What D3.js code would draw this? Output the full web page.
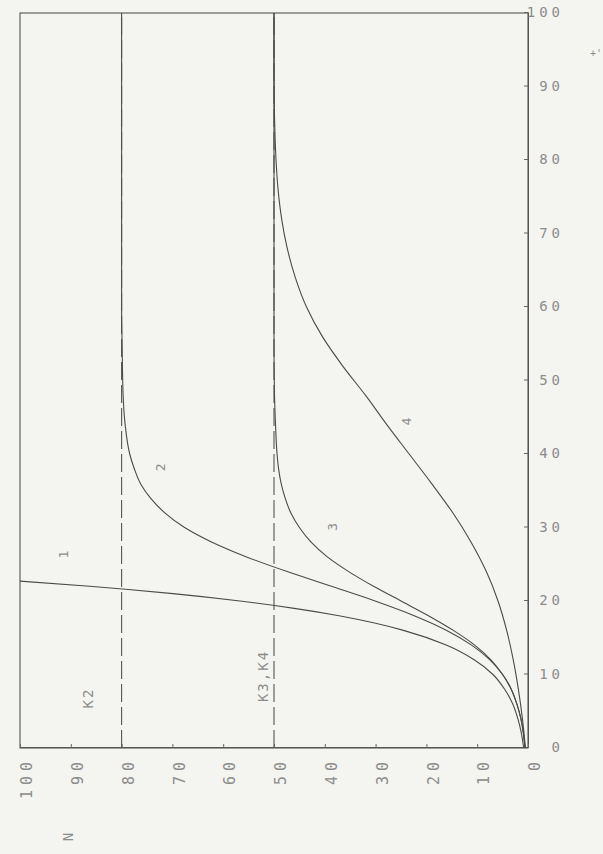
<!DOCTYPE html>
<html>
<head>
<meta charset="utf-8">
<script src="https://cdn.jsdelivr.net/npm/d3@7"></script>
<style>
  html, body { margin: 0; padding: 0; background: #f4f4f1; }
  svg { display: block; }
  text { font-family: "DejaVu Sans Mono", "Liberation Mono", monospace; fill: #8c8c8c; font-variant-numeric: slashed-zero; }
</style>
</head>
<body>
<script>
// values (t across, N up; the plot is printed rotated)
const tTicks = [0, 10, 20, 30, 40, 50, 60, 70, 80, 90, 100];
const nTicks = [0, 10, 20, 30, 40, 50, 60, 70, 80, 90, 100];

const curve1T = [0, 2, 4, 6, 8, 10, 12, 14, 16, 17, 18, 19, 20, 21, 22, 22.7];
const curve1N = [0.85, 1.3, 2.0, 3.0, 4.6, 6.9, 10.6, 16.1, 24.5, 30.2, 37.2, 46.0, 56.7, 69.9, 86.3, 100];

const gridT = [0, 2, 4, 6, 8, 10, 12, 14, 16, 18, 20, 22, 24, 26, 28, 30, 32, 34, 36, 38, 40, 44, 48, 55, 60, 70, 80, 90, 100];
const curve2N = [0.6, 0.9, 1.4, 2.2, 3.3, 5.0, 7.5, 11.1, 16.0, 22.4, 30.1, 38.7, 47.4, 55.4, 62.2, 67.6, 71.5, 74.3, 76.3, 77.5, 78.4, 79.3, 79.7, 79.9, 80, 80, 80, 80, 80];
const curve3N = [0.6, 0.9, 1.4, 2.2, 3.3, 5.0, 7.3, 10.5, 14.7, 19.6, 25.0, 30.4, 35.3, 39.5, 42.7, 45.0, 46.7, 47.8, 48.6, 49.1, 49.4, 49.7, 49.9, 50, 50, 50, 50, 50, 50];

const curve4T = [0, 4, 8, 12, 16, 20, 24, 28, 32, 36, 40, 44, 48, 52, 56, 60, 64, 68, 72, 76, 80, 86, 92, 100];
const curve4N = [0.5, 1.1, 1.9, 2.9, 4.2, 5.9, 8.2, 11.2, 14.8, 19.0, 23.4, 27.8, 32.0, 36.5, 40.5, 43.6, 45.8, 47.4, 48.5, 49.2, 49.6, 49.9, 50, 50];

const kLevels = [80, 50];
const kNames = ["K2", "K3,K4"];
const kLabelAt = [[6.8, 86.6], [9.8, 52.2]];   // [t, N]

const curveNames = ["1", "2", "3", "4"];
const curveLabelAt = [[26.3, 91.5], [38.2, 72.4], [30.1, 38.4], [44.4, 24.0]];

const W = 735, H = 508;   // t length, N length (before rotating)

const svg = d3.select("body").append("svg")
  .attr("width", 603)
  .attr("height", 854);

// whole plot is drawn upright and turned a quarter turn
const g = svg.append("g")
  .attr("transform", "translate(20,748) rotate(-90)");

const x = d3.scaleLinear().domain([0, 100]).range([0, W]);
const y = d3.scaleLinear().domain([0, 100]).range([H, 0]);

g.append("clipPath").attr("id", "clip")
  .append("rect").attr("width", W).attr("height", H);

// frame
g.append("rect")
  .attr("width", W).attr("height", H)
  .attr("fill", "none")
  .attr("stroke", "#555")
  .attr("stroke-width", 1.1);

// t axis (shows on the right)
const xAxis = g.append("g")
  .attr("transform", `translate(0,${H})`)
  .call(d3.axisBottom(x).tickValues(tTicks).tickSizeInner(-4).tickSizeOuter(0).tickFormat(d3.format("d")));
xAxis.select(".domain").attr("stroke", "#555");
xAxis.selectAll(".tick line").attr("stroke", "#666");
xAxis.selectAll(".tick text")
  .attr("transform", "rotate(90)")
  .attr("x", 36)
  .attr("y", 0)
  .attr("dy", "0.35em")
  .attr("text-anchor", "end")
  .style("font-size", "14px")
  .style("letter-spacing", "4px");

// N axis (shows at the bottom)
const yAxis = g.append("g")
  .call(d3.axisLeft(y).tickValues(nTicks).tickSizeInner(-4).tickSizeOuter(0).tickPadding(9).tickFormat(d3.format("d")));
yAxis.select(".domain").attr("stroke", "#555");
yAxis.selectAll(".tick line").attr("stroke", "#666");
yAxis.selectAll(".tick text")
  .attr("dy", "0.78em")
  .style("font-size", "15px")
  .style("letter-spacing", "5px");

g.append("text")
  .attr("x", -89)
  .attr("y", y(90.5))
  .attr("dy", "0.35em")
  .attr("text-anchor", "middle")
  .style("font-size", "14px")
  .text("N");

// stray plotter mark top right
g.append("text")
  .attr("x", x(94.5))
  .attr("y", H + 62)
  .attr("transform", `rotate(90,${x(94.5)},${H + 62})`)
  .attr("dy", "0.35em")
  .style("font-size", "10px")
  .text("+'");

// carrying capacity lines
g.selectAll(".kline")
  .data(kLevels)
  .join("line")
  .attr("class", "kline")
  .attr("x1", x(0)).attr("x2", x(100))
  .attr("y1", d => y(d)).attr("y2", d => y(d))
  .attr("stroke", "#555")
  .attr("stroke-width", 1.1)
  .attr("stroke-dasharray", "18,5");

g.selectAll(".klabel")
  .data(kNames)
  .join("text")
  .attr("class", "klabel")
  .attr("x", (d, i) => x(kLabelAt[i][0]))
  .attr("y", (d, i) => y(kLabelAt[i][1]))
  .attr("dy", "0.35em")
  .attr("text-anchor", "middle")
  .style("font-size", "14px")
  .style("letter-spacing", "2px")
  .text(d => d);

// curves
const series = [
  curve1T.map((t, i) => [t, curve1N[i]]),
  gridT.map((t, i) => [t, curve2N[i]]),
  gridT.map((t, i) => [t, curve3N[i]]),
  curve4T.map((t, i) => [t, curve4N[i]])
];

const line = d3.line()
  .x(d => x(d[0]))
  .y(d => y(d[1]))
  .curve(d3.curveMonotoneX);

g.append("g").attr("clip-path", "url(#clip)")
  .selectAll("path")
  .data(series)
  .join("path")
  .attr("d", line)
  .attr("fill", "none")
  .attr("stroke", "#4a4a4a")
  .attr("stroke-width", 1.1);

g.selectAll(".clabel")
  .data(curveNames)
  .join("text")
  .attr("class", "clabel")
  .attr("x", (d, i) => x(curveLabelAt[i][0]))
  .attr("y", (d, i) => y(curveLabelAt[i][1]))
  .attr("dy", "0.35em")
  .attr("text-anchor", "middle")
  .style("font-size", "13px")
  .text(d => d);
</script>
</body>
</html>
